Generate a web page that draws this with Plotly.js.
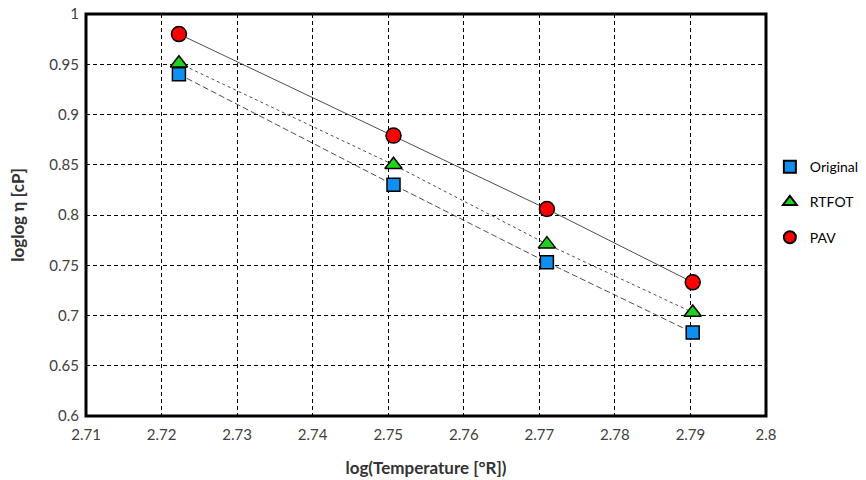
<!DOCTYPE html>
<html>
<head>
<meta charset="utf-8">
<script src="https://cdn.plot.ly/plotly-3.0.1.min.js"></script>
<style>html,body{margin:0;padding:0;background:#fff}#chart{width:866px;height:480px}</style>
</head>
<body>
<div id="chart"></div>
<script>
const logT = [2.7223, 2.7507, 2.7710, 2.7903];
const original = [0.940, 0.830, 0.753, 0.683];
const rtfot = [0.951, 0.850, 0.771, 0.703];
const pav = [0.980, 0.879, 0.806, 0.733];
const seriesNames = ['Original', 'RTFOT', 'PAV'];

const lineCol = '#4d4d4d';
const traces = [
  {x: logT, y: original, mode: 'lines', line: {color: lineCol, width: 1, dash: '6px,3px'}, showlegend: false, hoverinfo: 'skip'},
  {x: logT, y: rtfot, mode: 'lines', line: {color: lineCol, width: 1, dash: '3px,3px'}, showlegend: false, hoverinfo: 'skip'},
  {x: logT, y: pav, mode: 'lines', line: {color: lineCol, width: 1}, showlegend: false, hoverinfo: 'skip'},
  {x: logT, y: original, name: seriesNames[0], mode: 'markers', legendgroup: 'a',
   marker: {symbol: 'square', size: 13, color: '#0f8ff0', line: {color: '#000', width: 1.5}}},
  {x: logT, y: rtfot, name: seriesNames[1], mode: 'markers', legendgroup: 'b',
   marker: {symbol: 'triangle-up', size: 15, color: '#1ed21e', line: {color: '#000', width: 1.5}}},
  {x: logT, y: pav, name: seriesNames[2], mode: 'markers', legendgroup: 'c',
   marker: {symbol: 'circle', size: 15, color: '#ff0000', line: {color: '#000', width: 1.5}}}
];

const tickFont = {family: 'Lato, "Liberation Sans", sans-serif', size: 15, color: '#404040'};
const layout = {
  width: 866, height: 480,
  margin: {l: 86, r: 100, t: 14, b: 64},
  paper_bgcolor: '#fff', plot_bgcolor: '#fff',
  font: {family: 'Lato, "Liberation Sans", sans-serif'},
  xaxis: {
    range: [2.71, 2.8], dtick: 0.01, tick0: 2.71, tickformat: '.2~f',
    showgrid: true, gridcolor: '#000', gridwidth: 1, griddash: '4px,3px',
    zeroline: false, showline: false, ticks: '', tickfont: tickFont, ticklabelstandoff: 8,
    title: {text: '<b>log(Temperature [°R])</b>', font: {size: 17, color: '#333'}, standoff: 20}
  },
  yaxis: {
    range: [0.6, 1], dtick: 0.05, tick0: 0.6, tickformat: '.2~f',
    showgrid: true, gridcolor: '#000', gridwidth: 1, griddash: '4px,3px',
    zeroline: false, showline: false, ticks: '', tickfont: tickFont, ticklabelstandoff: 6,
    title: {text: '<b>loglog η [cP]</b>', font: {size: 17, color: '#333'}, standoff: 20}
  },
  shapes: [{type: 'rect', xref: 'paper', yref: 'paper', x0: 0, x1: 1, y0: 0, y1: 1,
            line: {color: '#000', width: 3}, layer: 'above'}],
  legend: {xref: 'container', yref: 'container', x: 0.889, y: 0.685, xanchor: 'left', yanchor: 'top',
           tracegroupgap: 14, itemwidth: 30, itemsizing: 'constant',
           font: {family: 'Lato, "Liberation Sans", sans-serif', size: 14, color: '#000'},
           bgcolor: 'rgba(0,0,0,0)'},
  showlegend: true
};
Plotly.newPlot('chart', traces, layout, {displayModeBar: false, staticPlot: true});
</script>
</body>
</html>
